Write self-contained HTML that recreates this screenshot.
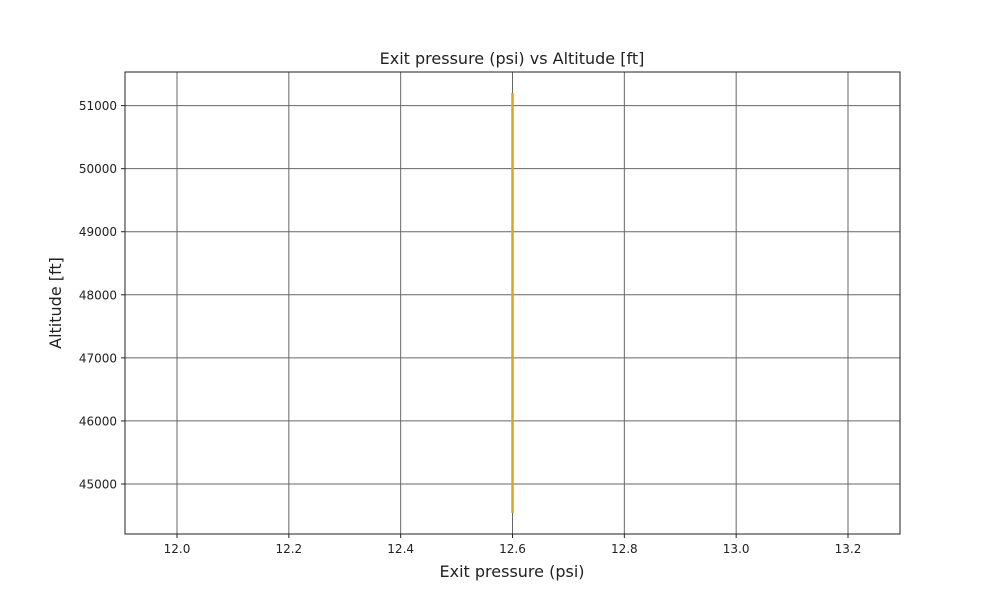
<!DOCTYPE html>
<html><head><meta charset="utf-8"><style>
body{margin:0;background:#fff;}
svg text{font-family:"DejaVu Sans","Liberation Sans",sans-serif;fill:#222;}
</style></head><body>
<svg id="chart" width="1000" height="600" xmlns="http://www.w3.org/2000/svg">
<rect width="1000" height="600" fill="#fff"/>
<text x="512" y="64" text-anchor="middle" font-size="16">Exit pressure (psi) vs Altitude [ft]</text>
<text x="512" y="577" text-anchor="middle" font-size="16">Exit pressure (psi)</text>
<text x="61" y="303" text-anchor="middle" font-size="16" transform="rotate(-90 61 303)">Altitude [ft]</text>
<g id="grid"></g><g id="series"></g>
<rect x="125" y="72" width="775" height="462" fill="none" stroke="#222" stroke-width="1"/>
</svg>
<script>
const xTicks=[12.0,12.2,12.4,12.6,12.8,13.0,13.2];
const yTicks=[45000,46000,47000,48000,49000,50000,51000];
const altitudes=[44540,51200];
const pressures=[12.6,12.6];
const L=125,R=900,T=72,B=534,x0=11.907,x1=13.293,y0=44207,y1=51533;
const sx=v=>L+(v-x0)/(x1-x0)*(R-L);
const sy=v=>B-(v-y0)/(y1-y0)*(B-T);
const NS="http://www.w3.org/2000/svg";
const g=document.getElementById('grid'),s=document.getElementById('series');
function mk(tag,a,p){const e=document.createElementNS(NS,tag);for(const k in a)e.setAttribute(k,a[k]);p.appendChild(e);return e;}
xTicks.forEach(t=>{const x=sx(t);
const l=mk('line',{x1:x,x2:x,y1:T,y2:B,stroke:'#666','stroke-width':1},g);


mk('line',{x1:x,x2:x,y1:B,y2:B+4,stroke:'#222'},g);
const tx=mk('text',{x:x,y:B+19,'text-anchor':'middle','font-size':12},g);tx.textContent=t.toFixed(1);

});
yTicks.forEach(t=>{const y=sy(t);
const l=mk('line',{x1:L,x2:R,y1:y,y2:y,stroke:'#666','stroke-width':1},g);


mk('line',{x1:L-4,x2:L,y1:y,y2:y,stroke:'#222'},g);
const tx=mk('text',{x:L-8,y:y+4.5,'text-anchor':'end','font-size':12},g);tx.textContent=t;

});
const pl=mk('polyline',{points:pressures.map((p,i)=>sx(p)+','+sy(altitudes[i])).join(' '),fill:'none',stroke:'#DAA520','stroke-width':2.5},s);


</script>
</body></html>
